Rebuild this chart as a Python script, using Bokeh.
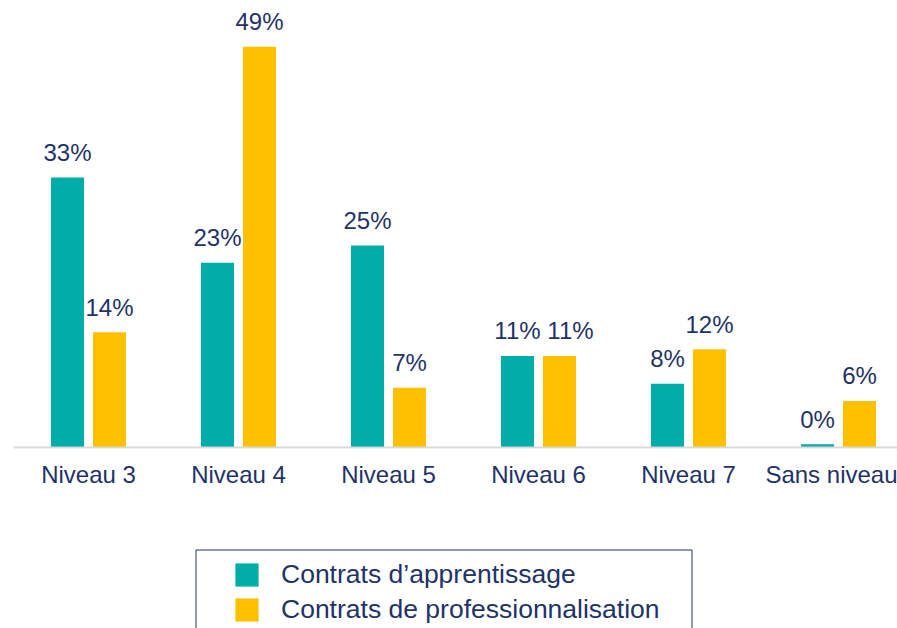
from bokeh.plotting import figure
from bokeh.layouts import column
from bokeh.models import (ColumnDataSource, Range1d, LinearAxis, FixedTicker,
                          Legend, LegendItem, BoxAnnotation)
from bokeh.embed import file_html
from bokeh.resources import INLINE

# ---- data ----
categories = ["Niveau 3", "Niveau 4", "Niveau 5", "Niveau 6", "Niveau 7", "Sans niveau"]
apprentissage = [33.0, 22.6, 24.7, 11.2, 7.8, 0.4]
professionnalisation = [14.1, 49.0, 7.3, 11.2, 12.0, 5.7]
series_names = ["Contrats d\u2019apprentissage", "Contrats de professionnalisation"]

TEAL = "#00ADA9"
YELLOW = "#FFC000"
NAVY = "#1F3366"
FONT = "Liberation Sans"

centers = [i + 0.5 for i in range(len(categories))]
offset = 0.14
bar_w = 0.22

# nudge a label sideways when both labels of a group sit at the same height
nudge = [11 if abs(a - b) < 3 else 0 for a, b in zip(apprentissage, professionnalisation)]

src_a = ColumnDataSource(dict(
    x=[c - offset for c in centers], top=apprentissage,
    label=[f"{round(v)}%" for v in apprentissage],
    dx=[0] * len(centers)))
src_p = ColumnDataSource(dict(
    x=[c + offset for c in centers], top=professionnalisation,
    label=[f"{round(v)}%" for v in professionnalisation],
    dx=nudge))

p = figure(width=897, height=544, output_backend="svg", toolbar_location=None,
           x_range=Range1d(0, 884 / 150), y_range=Range1d(0, 54.65),
           min_border_left=13, min_border_right=0, min_border_top=0,
           min_border_bottom=97, x_axis_type=None, y_axis_type=None)
p.outline_line_color = None
p.grid.visible = False

p.vbar(x="x", top="top", width=bar_w, bottom=0, source=src_a,
       fill_color=TEAL, line_color=None)
p.vbar(x="x", top="top", width=bar_w, bottom=0, source=src_p,
       fill_color=YELLOW, line_color=None)

for src in (src_a, src_p):
    p.text(x="x", y="top", text="label", source=src, text_align="center",
           text_baseline="alphabetic", x_offset="dx", y_offset=-25,
           text_font_size="24px", text_font={"value": FONT}, text_color=NAVY)

xaxis = LinearAxis(ticker=FixedTicker(ticks=centers),
                   major_label_overrides={c: n for c, n in zip(centers, categories)})
xaxis.axis_line_color = "#D9D9D9"
xaxis.axis_line_width = 2
xaxis.major_tick_line_color = None
xaxis.minor_tick_line_color = None
xaxis.major_label_standoff = 7
xaxis.major_label_text_font = FONT
xaxis.major_label_text_font_size = "24px"
xaxis.major_label_text_color = NAVY
p.add_layout(xaxis, "below")

# ---- legend panel (second figure, its coordinates = page pixels) ----
p2 = figure(width=897, height=84, output_backend="svg", toolbar_location=None,
            x_range=Range1d(13, 897), y_range=Range1d(628, 544),
            min_border_left=13, min_border_right=0, min_border_top=0,
            min_border_bottom=0, x_axis_type=None, y_axis_type=None)
p2.outline_line_color = None
p2.grid.visible = False

l_a = p2.vbar(x="x", top="top", width=bar_w, bottom=0, source=src_a,
              fill_color=TEAL, line_color=None, visible=False)
l_p = p2.vbar(x="x", top="top", width=bar_w, bottom=0, source=src_p,
              fill_color=YELLOW, line_color=None, visible=False)

box = BoxAnnotation(left=195.5, right=691.5, top=549.5, bottom=660,
                    fill_alpha=0, line_color=NAVY, line_alpha=1, line_width=1)
p2.add_layout(box)

legend = Legend(items=[LegendItem(label=series_names[0], renderers=[l_a]),
                       LegendItem(label=series_names[1], renderers=[l_p])],
                location=(219, 3), border_line_alpha=0,
                background_fill_alpha=0, padding=0, margin=0,
                glyph_width=29, glyph_height=29, label_standoff=20, spacing=4,
                label_text_font=FONT, label_text_font_size="26.5px",
                label_text_color=NAVY, inactive_fill_alpha=0)
p2.add_layout(legend, "center")

layout = column(p, p2, spacing=0)
open("out.html", "w").write(file_html(layout, INLINE))
